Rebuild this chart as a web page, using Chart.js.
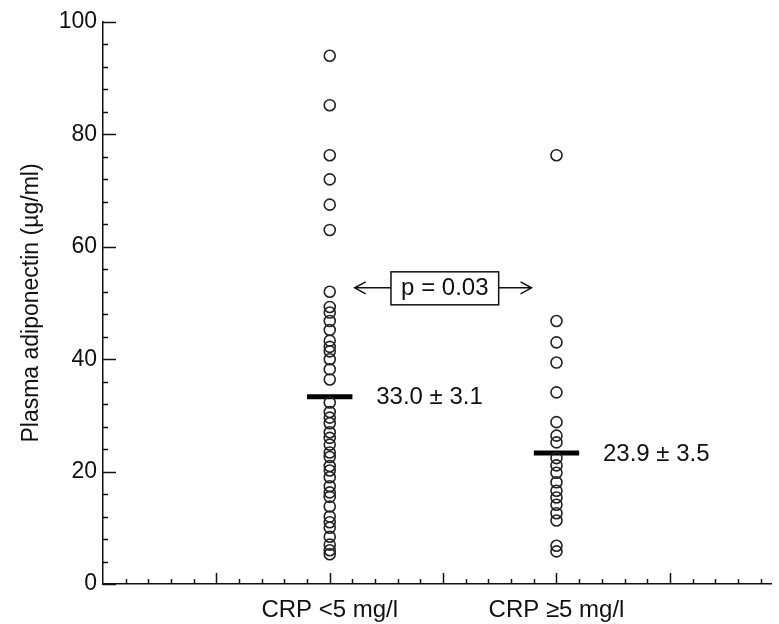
<!DOCTYPE html>
<html lang="en">
<head>
<meta charset="UTF-8">
<title>Plasma adiponectin by CRP</title>
<script src="https://cdn.jsdelivr.net/npm/chart.js"></script>
<style>
    body {
        margin: 0;
        padding: 0;
        background: #fff;
        overflow: hidden;
    }
    canvas {
        display: block;
    }
</style>
</head>
<body>
<canvas id="adipoChart" width="779" height="624"></canvas>
<script>
    // groups and their x position on the numeric axis
    const categories = ['CRP <5 mg/l', 'CRP \u22655 mg/l'];
    const groupX = [2, 4];

    // individual values (ug/ml)
    const crpLow = [94, 85.2, 76.3, 72, 67.5, 63, 52, 49.3, 48.3, 46.8, 45.2, 43.3, 42.2, 41.4, 40,
        38.2, 36.4, 32.3, 30.6, 29.6, 28.6, 27, 26, 24.8, 23.4, 22.6, 21, 20.2, 19, 17.4, 16.3,
        15.5, 13.8, 12, 11, 10, 8.4, 7, 6, 5.3];
    const crpHigh = [76.3, 46.8, 43, 39.4, 34.1, 28.8, 26.4, 25.2, 22.4, 21.1, 19.8, 18.1, 16.6,
        15.4, 14.1, 12.6, 11.3, 6.8, 5.8];

    // group means as drawn, and the printed labels
    const groupMeans = [33.3, 23.3];
    const meanLabels = ['33.0 \u00b1 3.1', '23.9 \u00b1 3.5'];
    const pValueLabel = 'p = 0.03';

    const yTicks = [0, 20, 40, 60, 80, 100];
    const xTicks = [0, 1, 2, 3, 4, 5];

    const FONT = "'Liberation Sans', Arial, Helvetica, sans-serif";
    const INK = '#111';

    // ticks point into the plot, major + minor
    const inwardTicks = {
        id: 'inwardTicks',
        afterDraw(chart) {
            const { ctx, scales: { x, y } } = chart;
            ctx.save();
            ctx.strokeStyle = INK;
            ctx.lineWidth = 1.5;
            ctx.beginPath();
            for (let i = 0; i <= 25; i++) {
                const py = Math.round(y.getPixelForValue(i * 4)) + 0.5;
                const len = i % 5 === 0 ? 13 : 5;
                ctx.moveTo(x.left, py);
                ctx.lineTo(x.left + len, py);
            }
            for (let i = 1; i * 0.2 <= x.max + 1e-6; i++) {
                const px = Math.round(x.getPixelForValue(i * 0.2)) + 0.5;
                const len = i % 5 === 0 ? 11 : 5;
                ctx.moveTo(px, y.bottom);
                ctx.lineTo(px, y.bottom - len);
            }
            ctx.stroke();
            ctx.restore();
        }
    };

    // mean labels, p value box and arrows
    const annotations = {
        id: 'annotations',
        afterDraw(chart) {
            const { ctx, scales: { x, y } } = chart;
            ctx.save();
            ctx.fillStyle = INK;
            ctx.strokeStyle = INK;
            ctx.font = '24px ' + FONT;
            ctx.textBaseline = 'middle';
            ctx.textAlign = 'left';
            groupMeans.forEach((m, i) => {
                ctx.fillText(meanLabels[i], x.getPixelForValue(groupX[i] + 0.41), y.getPixelForValue(m) + 1);
            });

            const cy = y.getPixelForValue(52.7);
            const bx0 = x.getPixelForValue(2.54), bx1 = x.getPixelForValue(3.49);
            ctx.lineWidth = 1.5;
            ctx.strokeRect(bx0, cy - 16, bx1 - bx0, 33);
            ctx.textAlign = 'center';
            ctx.fillText(pValueLabel, (bx0 + bx1) / 2, cy + 1);

            const lTip = x.getPixelForValue(2.22), rTip = x.getPixelForValue(3.78);
            ctx.beginPath();
            ctx.moveTo(bx0, cy); ctx.lineTo(lTip, cy);
            ctx.moveTo(lTip + 11, cy - 6); ctx.lineTo(lTip, cy); ctx.lineTo(lTip + 11, cy + 6);
            ctx.moveTo(bx1, cy); ctx.lineTo(rTip, cy);
            ctx.moveTo(rTip - 11, cy - 6); ctx.lineTo(rTip, cy); ctx.lineTo(rTip - 11, cy + 6);
            ctx.stroke();
            ctx.restore();
        }
    };

    const pointStyle = {
        pointRadius: 5.5,
        pointBorderWidth: 1.6,
        pointBorderColor: '#222',
        pointBackgroundColor: 'rgba(0,0,0,0)',
        pointHoverRadius: 5.5
    };

    const datasets = [
        Object.assign({ label: categories[0], data: crpLow.map(v => ({ x: groupX[0], y: v })) }, pointStyle),
        Object.assign({ label: categories[1], data: crpHigh.map(v => ({ x: groupX[1], y: v })) }, pointStyle)
    ];
    groupMeans.forEach((m, i) => {
        datasets.push({
            label: 'mean ' + categories[i],
            data: [{ x: groupX[i] - 0.2, y: m }, { x: groupX[i] + 0.2, y: m }],
            showLine: true,
            borderColor: '#000',
            borderWidth: 5,
            pointRadius: 0,
            borderCapStyle: 'butt'
        });
    });

    new Chart(document.getElementById('adipoChart'), {
        type: 'scatter',
        data: { datasets: datasets },
        options: {
            responsive: false,
            devicePixelRatio: 1,
            animation: false,
            layout: { padding: { top: 22, right: 0, bottom: 0, left: 0 } },
            plugins: {
                legend: { display: false },
                tooltip: { enabled: false }
            },
            scales: {
                x: {
                    type: 'linear',
                    min: 0,
                    max: 5.9,
                    afterBuildTicks: s => { s.ticks = xTicks.map(v => ({ value: v })); },
                    afterFit: s => { s.height = 40; },
                    grid: { display: false, drawTicks: false },
                    border: { color: INK, width: 1.5 },
                    ticks: {
                        autoSkip: false,
                        maxRotation: 0,
                        padding: 12,
                        color: INK,
                        font: { family: FONT, size: 24 },
                        callback: v => {
                            const i = groupX.indexOf(v);
                            return i >= 0 ? categories[i] : '';
                        }
                    }
                },
                y: {
                    min: 0,
                    max: 100,
                    afterBuildTicks: s => { s.ticks = yTicks.map(v => ({ value: v })); },
                    afterFit: s => { s.width = 103; },
                    grid: { display: false, drawTicks: false },
                    border: { color: INK, width: 1.5 },
                    ticks: {
                        padding: 6,
                        color: INK,
                        font: { family: FONT, size: 23 }
                    },
                    title: {
                        display: true,
                        text: 'Plasma adiponectin (\u00b5g/ml)',
                        color: INK,
                        font: { family: FONT, size: 23 },
                        padding: { top: 18, bottom: 0 }
                    }
                }
            }
        },
        plugins: [inwardTicks, annotations]
    });
</script>
</body>
</html>
